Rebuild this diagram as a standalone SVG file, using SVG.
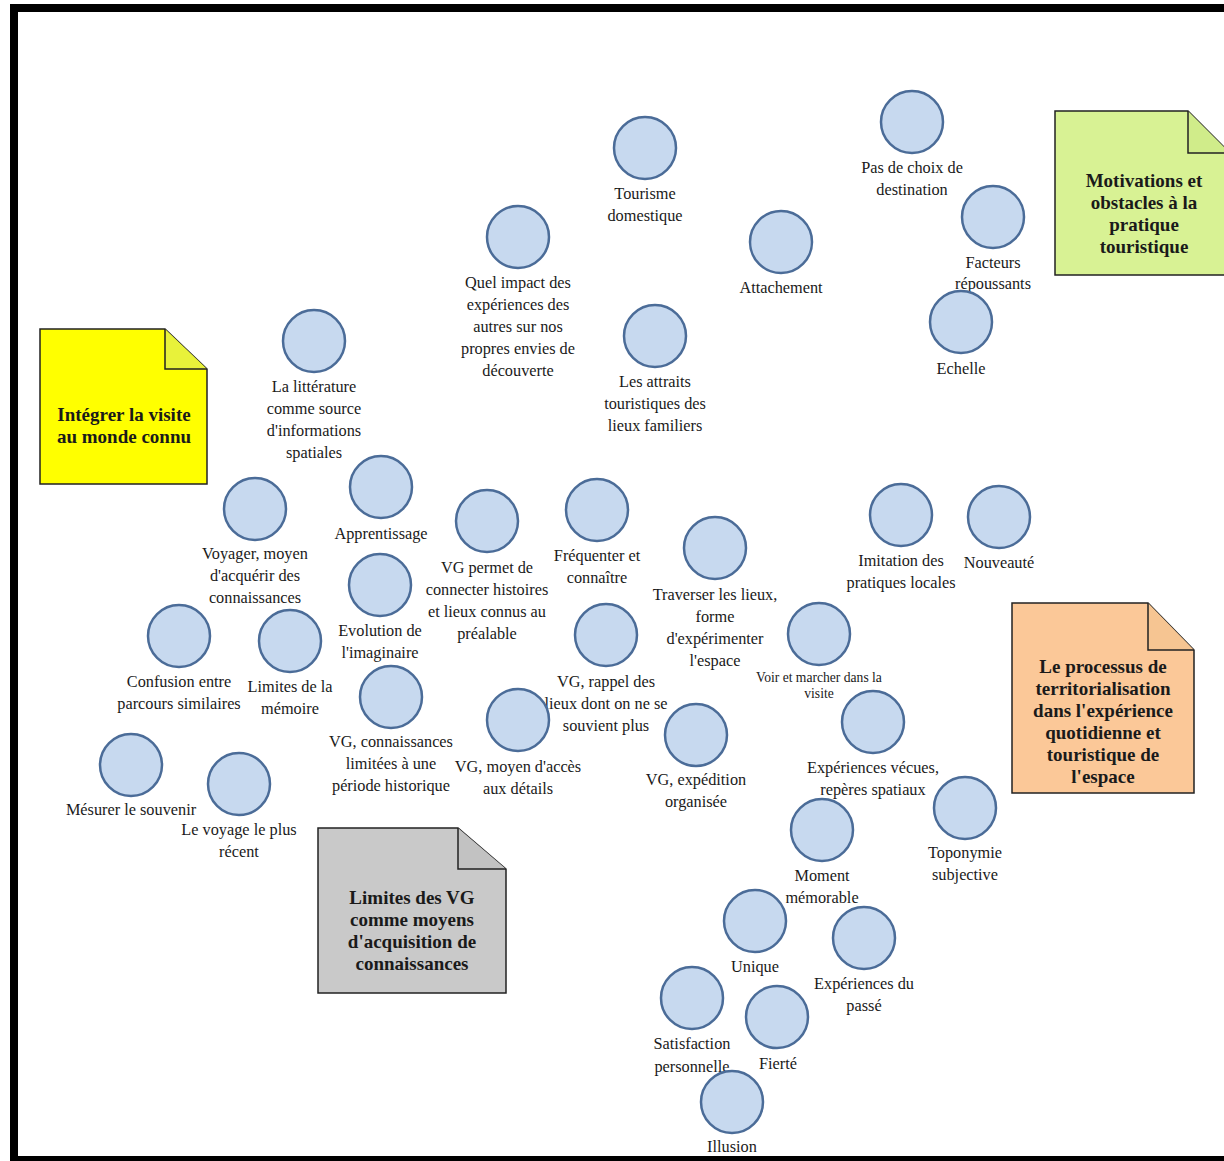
<svg xmlns="http://www.w3.org/2000/svg" width="1224" height="1161" viewBox="0 0 1224 1161">
<style>
.n circle{fill:#c7d9ef;stroke:#4b6c98;stroke-width:2.5}
.n text{font-family:"Liberation Serif","Times New Roman",serif;font-size:16.3px;fill:#1a1a1a;text-anchor:middle}
.n text.s{font-size:13.6px}
.note path{stroke:#222;stroke-width:1.5}
.note text{font-family:"Liberation Serif","Times New Roman",serif;font-size:19px;font-weight:bold;fill:#1a1a1a;text-anchor:middle}
</style>
<rect x="0" y="0" width="1224" height="1161" fill="#ffffff"/>
<g id="frame" fill="#000">
<rect x="10" y="4" width="1214" height="8"/>
<rect x="10" y="4" width="8" height="1157"/>
<rect x="10" y="1156" width="1214" height="5"/>
</g>
<g id="connectors"></g>

<g id="note-motivations" class="note">
<path d="M1055 111 H1188 L1230 153 V275 H1055 Z" fill="#d8f294"/>
<path d="M1188 111 V153 H1230" fill="#d0ec8a"/>
<text x="1144" y="187">Motivations et</text>
<text x="1144" y="209">obstacles à la</text>
<text x="1144" y="231">pratique</text>
<text x="1144" y="253">touristique</text>
</g>
<g id="note-integrer" class="note">
<path d="M40 329 H165 L207 369 V484 H40 Z" fill="#ffff00"/>
<path d="M165 329 V369 H207" fill="#e8f23a"/>
<text x="124" y="421">Intégrer la visite</text>
<text x="124" y="443">au monde connu</text>
</g>
<g id="note-limites" class="note">
<path d="M318 828 H458 L506 869 V993 H318 Z" fill="#c9c9c9"/>
<path d="M458 828 V869 H506" fill="#c2c2c2"/>
<text x="412" y="904">Limites des VG</text>
<text x="412" y="926">comme moyens</text>
<text x="412" y="948">d'acquisition de</text>
<text x="412" y="970">connaissances</text>
</g>
<g id="note-processus" class="note">
<path d="M1012 603 H1148 L1194 650 V793 H1012 Z" fill="#fbc898"/>
<path d="M1148 603 V650 H1194" fill="#f6c592"/>
<text x="1103" y="673">Le processus de</text>
<text x="1103" y="695">territorialisation</text>
<text x="1103" y="717">dans l'expérience</text>
<text x="1103" y="739">quotidienne et</text>
<text x="1103" y="761">touristique de</text>
<text x="1103" y="783">l'espace</text>
</g>

<g id="n-tourisme" class="n"><circle cx="645" cy="148" r="31"/><text x="645" y="199">Tourisme</text><text x="645" y="221">domestique</text></g>
<g id="n-paschoix" class="n"><circle cx="912" cy="122" r="31"/><text x="912" y="173">Pas de choix de</text><text x="912" y="195">destination</text></g>
<g id="n-facteurs" class="n"><circle cx="993" cy="217" r="31"/><text x="993" y="268">Facteurs</text><text x="993" y="289">répoussants</text></g>
<g id="n-attachement" class="n"><circle cx="781" cy="242" r="31"/><text x="781" y="293">Attachement</text></g>
<g id="n-echelle" class="n"><circle cx="961" cy="322" r="31"/><text x="961" y="374">Echelle</text></g>
<g id="n-impact" class="n"><circle cx="518" cy="237" r="31"/><text x="518" y="288">Quel impact des</text><text x="518" y="310">expériences des</text><text x="518" y="332">autres sur nos</text><text x="518" y="354">propres envies de</text><text x="518" y="376">découverte</text></g>
<g id="n-attraits" class="n"><circle cx="655" cy="336" r="31"/><text x="655" y="387">Les attraits</text><text x="655" y="409">touristiques des</text><text x="655" y="431">lieux familiers</text></g>
<g id="n-litterature" class="n"><circle cx="314" cy="341" r="31"/><text x="314" y="392">La littérature</text><text x="314" y="414">comme source</text><text x="314" y="436">d'informations</text><text x="314" y="458">spatiales</text></g>
<g id="n-apprentissage" class="n"><circle cx="381" cy="487" r="31"/><text x="381" y="539">Apprentissage</text></g>
<g id="n-voyager" class="n"><circle cx="255" cy="509" r="31"/><text x="255" y="559">Voyager, moyen</text><text x="255" y="581">d'acquérir des</text><text x="255" y="603">connaissances</text></g>
<g id="n-vgconnecter" class="n"><circle cx="487" cy="521" r="31"/><text x="487" y="573">VG permet de</text><text x="487" y="595">connecter histoires</text><text x="487" y="617">et lieux connus au</text><text x="487" y="639">préalable</text></g>
<g id="n-frequenter" class="n"><circle cx="597" cy="510" r="31"/><text x="597" y="561">Fréquenter et</text><text x="597" y="583">connaître</text></g>
<g id="n-traverser" class="n"><circle cx="715" cy="548" r="31"/><text x="715" y="600">Traverser les lieux,</text><text x="715" y="622">forme</text><text x="715" y="644">d'expérimenter</text><text x="715" y="666">l'espace</text></g>
<g id="n-imitation" class="n"><circle cx="901" cy="515" r="31"/><text x="901" y="566">Imitation des</text><text x="901" y="588">pratiques locales</text></g>
<g id="n-nouveaute" class="n"><circle cx="999" cy="517" r="31"/><text x="999" y="568">Nouveauté</text></g>
<g id="n-evolution" class="n"><circle cx="380" cy="585" r="31"/><text x="380" y="636">Evolution de</text><text x="380" y="658">l'imaginaire</text></g>
<g id="n-confusion" class="n"><circle cx="179" cy="636" r="31"/><text x="179" y="687">Confusion entre</text><text x="179" y="709">parcours similaires</text></g>
<g id="n-limitesmemoire" class="n"><circle cx="290" cy="641" r="31"/><text x="290" y="692">Limites de la</text><text x="290" y="714">mémoire</text></g>
<g id="n-vgrappel" class="n"><circle cx="606" cy="635" r="31"/><text x="606" y="687">VG, rappel des</text><text x="606" y="709">lieux dont on ne se</text><text x="606" y="731">souvient plus</text></g>
<g id="n-voirmarcher" class="n"><circle cx="819" cy="634" r="31"/><text class="s" x="819" y="682">Voir et marcher dans la</text><text class="s" x="819" y="698">visite</text></g>
<g id="n-vgconnaissances" class="n"><circle cx="391" cy="697" r="31"/><text x="391" y="747">VG, connaissances</text><text x="391" y="769">limitées à une</text><text x="391" y="791">période historique</text></g>
<g id="n-vgacces" class="n"><circle cx="518" cy="720" r="31"/><text x="518" y="772">VG, moyen d'accès</text><text x="518" y="794">aux détails</text></g>
<g id="n-vgexpedition" class="n"><circle cx="696" cy="735" r="31"/><text x="696" y="785">VG, expédition</text><text x="696" y="807">organisée</text></g>
<g id="n-experiencesvecues" class="n"><circle cx="873" cy="722" r="31"/><text x="873" y="773">Expériences vécues,</text><text x="873" y="795">repères spatiaux</text></g>
<g id="n-toponymie" class="n"><circle cx="965" cy="808" r="31"/><text x="965" y="858">Toponymie</text><text x="965" y="880">subjective</text></g>
<g id="n-mesurer" class="n"><circle cx="131" cy="765" r="31"/><text x="131" y="815">Mésurer le souvenir</text></g>
<g id="n-voyagerecent" class="n"><circle cx="239" cy="784" r="31"/><text x="239" y="835">Le voyage le plus</text><text x="239" y="857">récent</text></g>
<g id="n-moment" class="n"><circle cx="822" cy="830" r="31"/><text x="822" y="881">Moment</text><text x="822" y="903">mémorable</text></g>
<g id="n-unique" class="n"><circle cx="755" cy="921" r="31"/><text x="755" y="972">Unique</text></g>
<g id="n-passe" class="n"><circle cx="864" cy="938" r="31"/><text x="864" y="989">Expériences du</text><text x="864" y="1011">passé</text></g>
<g id="n-satisfaction" class="n"><circle cx="692" cy="998" r="31"/><text x="692" y="1049">Satisfaction</text><text x="692" y="1072">personnelle</text></g>
<g id="n-fierte" class="n"><circle cx="777" cy="1017" r="31"/><text x="778" y="1069">Fierté</text></g>
<g id="n-illusion" class="n"><circle cx="732" cy="1102" r="31"/><text x="732" y="1152">Illusion</text></g>
</svg>
